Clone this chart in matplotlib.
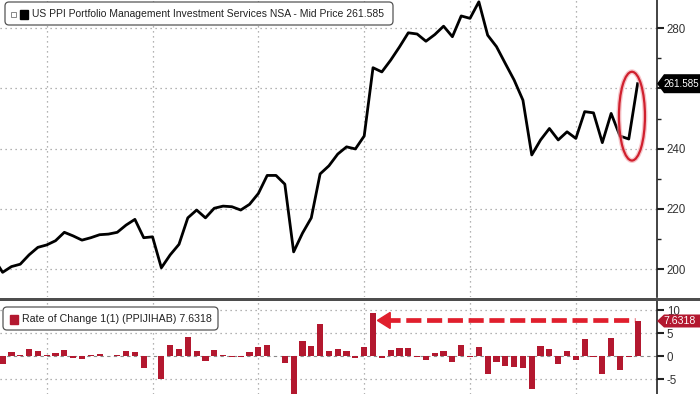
import matplotlib
matplotlib.use("Agg")
import matplotlib.pyplot as plt
from matplotlib.patches import Ellipse, FancyBboxPatch, Rectangle, Polygon
import numpy as np

# ---- data (monthly, oldest first) ----
# first value is the point just left of the visible window
price = [203.5,
         198.9, 200.8, 201.6, 204.7, 207.2, 208.0, 209.4, 212.2, 211.0, 209.6,
         210.4, 211.4, 211.6, 212.2, 214.6, 216.5, 210.4, 210.7, 200.4, 204.7,
         208.2, 217.0, 219.6, 217.0, 220.2, 220.9, 220.7, 219.6, 221.5, 225.1,
         231.1, 231.1, 228.2, 205.7, 211.9, 217.0, 231.6, 234.3, 238.2, 240.6,
         239.9, 244.2, 266.9, 265.5, 269.4, 273.8, 278.5, 278.1, 275.7, 277.9,
         280.7, 277.2, 284.1, 283.3, 288.8, 277.7, 273.9, 268.3, 262.8, 256.1,
         237.9, 242.9, 246.7, 242.9, 245.6, 243.4, 252.3, 251.9, 242.0, 251.7,
         244.2, 243.2, 261.585]
roc = [-1.7, 0.8, 0.2, 1.5, 1.2, 0.2, 0.65, 1.3, -0.4, -0.65,
       0.2, 0.45, 0.1, 0.3, 1.2, 0.8, -2.7, 0.1, -5.1, 2.4,
       1.5, 4.2, 1.1, -1.0, 1.3, 0.2, -0.1, -0.3, 0.8, 1.9,
       2.4, 0.0, -1.45, -9.9, 3.3, 2.2, 6.9, 1.2, 1.5, 1.2,
       -0.35, 1.9, 9.3, -0.5, 1.3, 1.7, 1.7, -0.2, -0.9, 0.65,
       1.2, -1.2, 2.5, -0.2, 2.0, -3.8, -1.2, -2.1, -2.3, -2.5,
       -7.2, 2.2, 1.5, -1.7, 1.2, -0.9, 3.8, -0.1, -3.9, 4.0,
       -3.0, -0.3, 7.6318]
year_starts = [5, 17, 29, 41, 53, 65]
price_ticks = [200, 220, 240, 260, 280]
price_minor = [210, 230, 250, 270]
roc_ticks = [-5, 0, 5, 10]
roc_ticklabels = ["-5", "0", "5", "10"]
last_price_label = "261.585"
last_roc_label = "7.6318"
price_title = "US PPI Portfolio Management Investment Services NSA - Mid Price 261.585"
roc_title = "Rate of Change 1(1) (PPIJIHAB) 7.6318"

RED = "#b3182f"
GRID = dict(color="#9a9a9a", linestyle=(0, (1, 3)), linewidth=0.9)
FONT = ["Liberation Sans", "DejaVu Sans"]
plt.rcParams["font.family"] = FONT

W, H = 700, 394
fig = plt.figure(figsize=(W / 100, H / 100), dpi=100)
fig.patch.set_facecolor("white")


def fx(px):
    return px / W


def fy(py):
    return 1 - py / H


def inch(px, py):
    # pixel (from top-left) -> inches from bottom-left
    return px / 100, (H - py) / 100


def value_tag(axis, value, label, colour, half_h, size):
    # Bloomberg-style last-value tag pinned to the right axis
    y = axis.transData.transform((0, value))[1] / 100
    x0 = 657 / 100
    verts = [(x0, y), (x0 + 0.07, y + half_h), (7.0, y + half_h),
             (7.0, y - half_h), (x0 + 0.07, y - half_h)]
    fig.add_artist(Polygon(verts, closed=True, transform=fig.dpi_scale_trans,
                           fc=colour, ec=colour, lw=0, zorder=20))
    fig.text(6.635 / 7.0, y / (H / 100), label, ha="left", va="center",
             color="white", fontsize=size, zorder=21)


ax = fig.add_axes([0, fy(297), fx(657), fy(0) - fy(297)])
ax2 = fig.add_axes([0, 0, fx(657), fy(300)])

x_price = np.arange(-1, len(price) - 1)
x_roc = np.arange(len(roc))

# ---- top panel ----
ax.plot(x_price, price, color="black", lw=2.0, zorder=3)
ax.set_xlim(-0.295, 74.2)
ax.set_ylim(190.7, 289.4)
ax.yaxis.tick_right()
ax.set_yticks(price_ticks)
ax.set_yticks(price_minor, minor=True)
ax.set_xticks(year_starts)
ax.tick_params(axis="x", length=0, labelbottom=False)
ax.tick_params(axis="y", which="major", direction="out", length=5, width=1.5,
               color="#222", labelsize=8.3, labelcolor="#333", pad=2)
ax.tick_params(axis="y", which="minor", direction="out", length=3, width=1,
               color="#222")
ax.grid(True, which="major", **GRID)
for s in ("top", "left", "bottom"):
    ax.spines[s].set_visible(False)
ax.spines["right"].set_color("#222")
ax.spines["right"].set_linewidth(1.2)

# highlight ring round the latest reading
ax.add_patch(Ellipse((71.36, 250.8), 2.95, 29.5, fill=False,
                     ec="#f0a0a8", lw=3.5, alpha=0.6, zorder=4))
ax.add_patch(Ellipse((71.36, 250.8), 2.95, 29.5, fill=False,
                     ec="#d0202e", lw=1.6, zorder=5))

# ---- bottom panel ----
ax2.bar(x_roc, roc, width=0.7, color=RED, zorder=3)
ax2.axhline(0, color="#8a8a8a", lw=0.8, ls=(0, (3, 3)), zorder=1)
ax2.set_xlim(-0.295, 74.2)
ax2.set_ylim(-8.26, 12.2)
ax2.yaxis.tick_right()
ax2.set_yticks(roc_ticks, roc_ticklabels)
ax2.set_xticks(year_starts)
ax2.tick_params(axis="x", length=0, labelbottom=False)
ax2.tick_params(axis="y", direction="out", length=5, width=1.5, color="#222",
                labelsize=8.3, labelcolor="#333", pad=2)
ax2.grid(True, axis="x", **GRID)
for v in (-5, 5, 10):
    ax2.axhline(v, zorder=0, **GRID)
for s in ("top", "left", "bottom"):
    ax2.spines[s].set_visible(False)
ax2.spines["right"].set_color("#222")
ax2.spines["right"].set_linewidth(1.2)

# dashed arrow from the latest bar back to the previous comparable jump
peak_idx = 42
ax2.plot([peak_idx + 1.4, len(roc) - 1.35], [7.75, 7.75], color="#e01f2d",
         lw=3.4, dashes=(3.2, 1.2), solid_capstyle="butt", zorder=4)
ax2.add_patch(Polygon([(peak_idx + 0.5, 7.75), (peak_idx + 1.95, 9.5),
                       (peak_idx + 1.95, 6.0)], closed=True, color="#e01f2d",
                      zorder=4))

value_tag(ax, price[-1], last_price_label, "black", 0.095, 7.1)
value_tag(ax2, roc[-1], last_roc_label, RED, 0.065, 7.6)

# panel separator
fig.add_artist(Rectangle((0, fy(301)), 1, (301 - 298) / H,
                         transform=fig.transFigure, color="#4d4d4d", lw=0))

# ---- legend boxes ----
fig.add_artist(FancyBboxPatch(inch(5, 25), 3.88, 0.23,
                              boxstyle="round,pad=0,rounding_size=0.04",
                              transform=fig.dpi_scale_trans, fc="white",
                              ec="#555", lw=0.9, zorder=10))
fig.add_artist(Rectangle(inch(11, 17), 0.05, 0.05, transform=fig.dpi_scale_trans,
                         fc="white", ec="#888", lw=0.7, zorder=11))
fig.add_artist(Rectangle(inch(20, 18.5), 0.08, 0.09, transform=fig.dpi_scale_trans,
                         color="black", zorder=11))
fig.text(fx(32), fy(14), price_title, ha="left", va="center", fontsize=7.5,
         color="#222", zorder=12)

fig.add_artist(FancyBboxPatch(inch(3, 330), 2.15, 0.23,
                              boxstyle="round,pad=0,rounding_size=0.04",
                              transform=fig.dpi_scale_trans, fc="white",
                              ec="#555", lw=0.9, zorder=10))
fig.add_artist(Rectangle(inch(10, 323.5), 0.08, 0.09, transform=fig.dpi_scale_trans,
                         color=RED, zorder=11))
fig.text(fx(22), fy(318.5), roc_title, ha="left", va="center", fontsize=7.7,
         color="#222", zorder=12)

fig.savefig("out.png", dpi=100)
